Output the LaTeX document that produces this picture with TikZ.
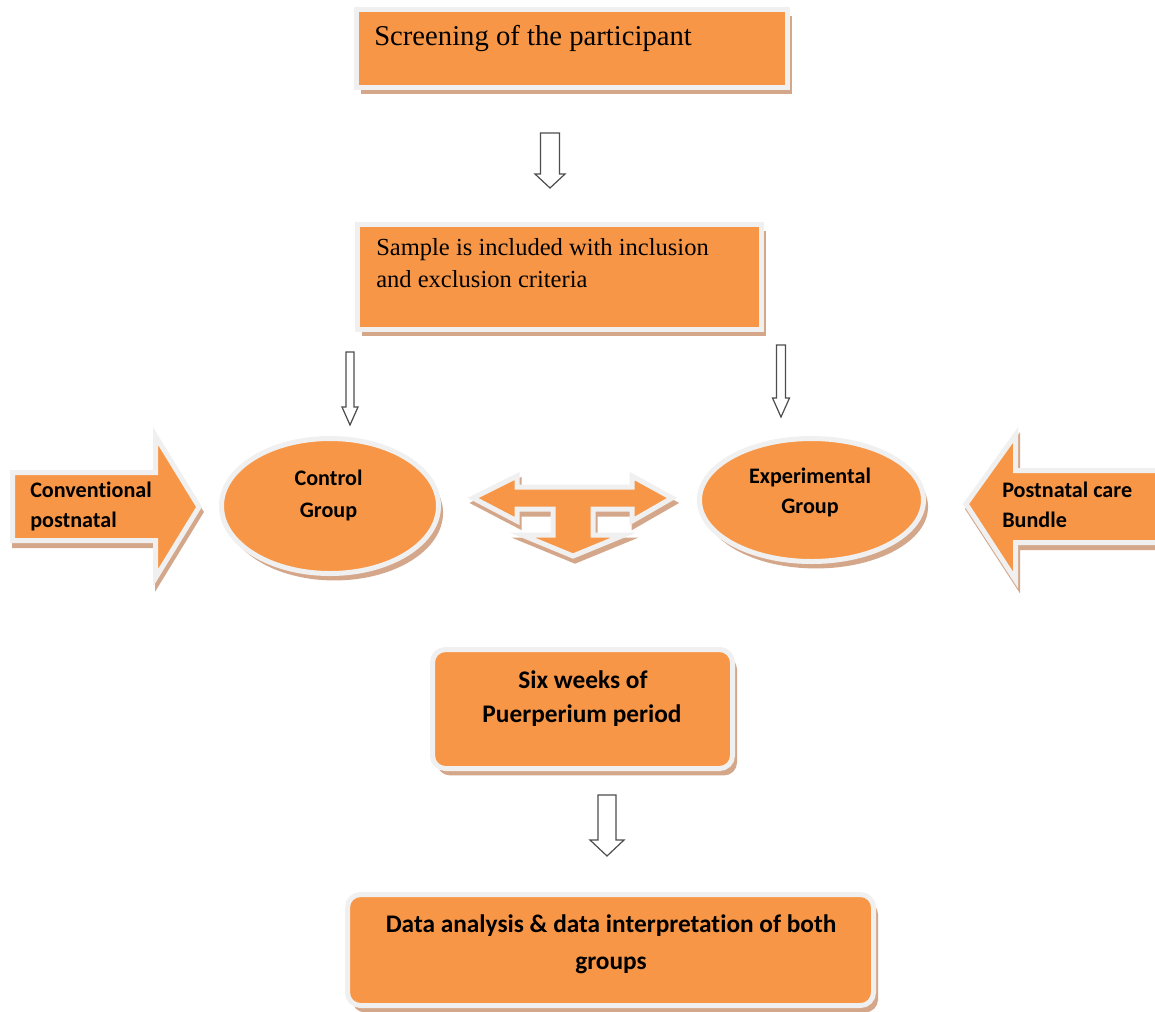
\documentclass[tikz,border=0pt]{standalone}
\usepackage{fontspec}
\setmainfont{Liberation Serif}
\newfontfamily\carl{Carlito}[Ligatures=NoCommon]
\usetikzlibrary{shadows}
\definecolor{orng}{HTML}{F79646}
\definecolor{rim}{HTML}{F0F0F0}
\definecolor{shade}{HTML}{D5A78A}
\definecolor{outl}{HTML}{4D4D4D}
\tikzset{
  rimmed/.style={fill=orng, draw=rim, line width=3.75pt, line join=miter},
  shadowpath/.style={fill=shade, draw=shade, line width=3.75pt, line join=miter},
  nodeshadow/.style={drop shadow={shadow xshift=3.4pt, shadow yshift=-5.2pt, fill=shade, opacity=1}},
  sqbox/.style={rectangle, rimmed, nodeshadow, inner sep=0pt},
  rbox/.style={rectangle, rounded corners=9.75pt, rimmed, nodeshadow, inner sep=0pt},
  oval/.style={ellipse, rimmed, nodeshadow, inner sep=0pt},
  hollow/.style={draw=outl, fill=white, line width=0.9pt, line join=miter},
  serifA/.style={font=\fontsize{21.5}{26}\selectfont, inner sep=0pt},
  serifB/.style={font=\fontsize{18.4}{22}\selectfont, inner sep=0pt},
  boldtxt/.style={font=\carl\bfseries\fontsize{16.6}{19}\selectfont, inner sep=0pt},
  boldbig/.style={font=\carl\bfseries\fontsize{19}{22}\selectfont, inner sep=0pt},
}
\usetikzlibrary{shapes.geometric}
\newcommand{\hollowdown}[6]{%
  \draw[hollow] (#1-#5,#2) -- (#1+#5,#2) -- (#1+#5,#3) -- (#1+#6,#3) -- (#1,#4) -- (#1-#6,#3) -- (#1-#5,#3) -- cycle;}
\begin{document}
\begin{tikzpicture}[x=0.75pt,y=-0.75pt]
\useasboundingbox (0,0) rectangle (1155,1011);
\clip (0,0) rectangle (1155,1011);
\fill[white] (0,0) rectangle (1155,1011);

% boxes
\node[sqbox, minimum width=323.25pt, minimum height=58.5pt] (screen) at (572,48.5) {};
\node[serifA, anchor=base west] (tscreen) at (374,45) {Screening of the participant};

\node[sqbox, minimum width=303pt, minimum height=78.75pt] (sample) at (559.5,277) {};
\node[serifB, anchor=base west] (tsampleA) at (376,255) {Sample is included with inclusion};
\node[serifB, anchor=base west] (tsampleB) at (376,287) {and exclusion criteria};

% hollow arrows
\hollowdown{550}{133}{174}{188}{9.5}{15}
\hollowdown{350}{352}{407}{425}{4}{8}
\hollowdown{781}{345}{398}{417}{4.5}{8.5}
\hollowdown{607}{795}{840}{856}{9}{17}

% ellipses
\node[oval, minimum width=162.75pt, minimum height=101.25pt] (control) at (330,506) {};
\node[boldtxt, anchor=base] (tcontrolA) at (328.5,485) {Control};
\node[boldtxt, anchor=base] (tcontrolB) at (328.5,517) {Group};

\node[oval, minimum width=168pt, minimum height=92.25pt] (exper) at (811.5,500) {};
\node[boldtxt, anchor=base] (texperA) at (810,483) {Experimental};
\node[boldtxt, anchor=base] (texperB) at (810,513) {Group};

% left block arrow
\path[shadowpath, shift={(2,5)}] (12.5,472.5) -- (155.5,472.5) -- (155.5,436) -- (199,507) -- (155.5,578) -- (155.5,540.5) -- (12.5,540.5) -- cycle;
\path[rimmed] (12.5,472.5) -- (155.5,472.5) -- (155.5,436) -- (199,507) -- (155.5,578) -- (155.5,540.5) -- (12.5,540.5) -- cycle;
\node[boldtxt, anchor=base west] (tconvA) at (30,497) {Conventional};
\node[boldtxt, anchor=base west] (tconvB) at (30,527) {postnatal};

% right block arrow
\path[shadowpath, shift={(2,5)}] (1170,470.5) -- (1015.5,470.5) -- (1015.5,435) -- (966,504) -- (1015.5,580) -- (1015.5,542.5) -- (1170,542.5) -- cycle;
\path[rimmed] (1170,470.5) -- (1015.5,470.5) -- (1015.5,435) -- (966,504) -- (1015.5,580) -- (1015.5,542.5) -- (1170,542.5) -- cycle;
\node[boldtxt, anchor=base west] (tbundleA) at (1002,497) {Postnatal care};
\node[boldtxt, anchor=base west] (tbundleB) at (1002,527) {Bundle};

% T-shaped three-way arrow
\path[shadowpath, shift={(2,5)}] (473,498) -- (517,476) -- (517,487) -- (632,487) -- (632,476) -- (672,498) -- (632,521) -- (632,509) -- (593,509) -- (593,535) -- (624,535) -- (573,556) -- (522,535) -- (553,535) -- (553,509) -- (517,509) -- (517,521) -- cycle;
\path[rimmed] (473,498) -- (517,476) -- (517,487) -- (632,487) -- (632,476) -- (672,498) -- (632,521) -- (632,509) -- (593,509) -- (593,535) -- (624,535) -- (573,556) -- (522,535) -- (553,535) -- (553,509) -- (517,509) -- (517,521) -- cycle;

% rounded boxes
\node[rbox, minimum width=225pt, minimum height=89.25pt] (six) at (582.5,709) {};
\node[boldbig, anchor=base] (tsixA) at (583,688) {Six weeks of};
\node[boldbig, anchor=base] (tsixB) at (582,722) {Puerperium period};

\node[rbox, minimum width=394.5pt, minimum height=83.25pt] (data) at (610.5,950) {};
\node[boldbig, anchor=base] (tdataA) at (611,932) {Data analysis \& data interpretation of both};
\node[boldbig, anchor=base] (tdataB) at (611,969) {groups};
\end{tikzpicture}
\end{document}
